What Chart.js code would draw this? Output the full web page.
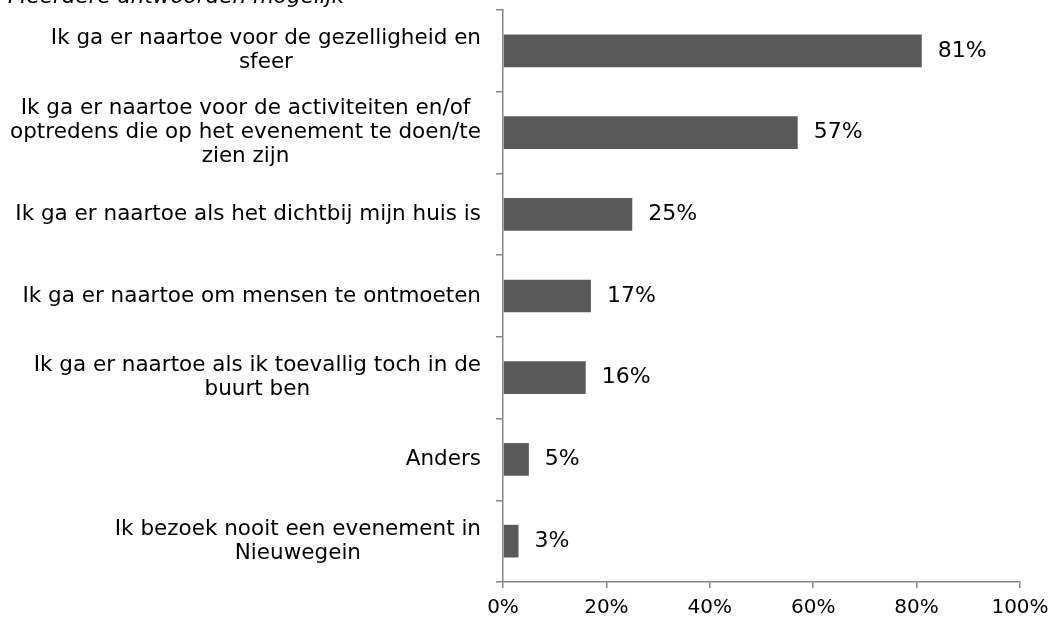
<!DOCTYPE html>
<html>
<head>
<meta charset="utf-8">
<script src="https://cdn.jsdelivr.net/npm/chart.js@4"></script>
<style>
  body { margin: 0; background: #fff; }
  #wrap { width: 1060px; height: 622px; position: relative; }
</style>
</head>
<body>
<div id="wrap"><canvas id="chart"></canvas></div>
<script>
var categories = [
  ["Ik ga er naartoe voor de gezelligheid en", "sfeer"],
  ["Ik ga er naartoe voor de activiteiten en/of", "optredens die op het evenement te doen/te", "zien zijn"],
  ["Ik ga er naartoe als het dichtbij mijn huis is"],
  ["Ik ga er naartoe om mensen te ontmoeten"],
  ["Ik ga er naartoe als ik toevallig toch in de", "buurt ben"],
  ["Anders"],
  ["Ik bezoek nooit een evenement in", "Nieuwegein"]
];
var values = [81, 57, 25, 17, 16, 5, 3];
var xTicks = [0, 20, 40, 60, 80, 100];
var subtitle = "Meerdere antwoorden mogelijk";

var FONT = "'DejaVu Sans', Verdana, sans-serif";
var axisColor = "#868686";

// y labels: block right aligned, lines centred inside the block
var labelPlugin = {
  id: "labels",
  afterDraw: function (chart) {
    var ctx = chart.ctx;
    var y = chart.scales.y;
    var x = chart.scales.x;
    ctx.save();
    ctx.fillStyle = "#000";
    ctx.textBaseline = "middle";
    var lineH = 24;
    var right = chart.chartArea.left - 22;
    categories.forEach(function (lines, i) {
      var cy = y.getPixelForValue(i);
      ctx.font = "21.5px " + FONT;
      var w = 0;
      lines.forEach(function (l) { w = Math.max(w, ctx.measureText(l).width); });
      var cx = right - w / 2;
      ctx.textAlign = "center";
      lines.forEach(function (l, j) {
        ctx.fillText(l, cx, cy + (j - (lines.length - 1) / 2) * lineH);
      });
      // value label
      ctx.font = "22px " + FONT;
      ctx.textAlign = "left";
      ctx.fillText(values[i] + "%", x.getPixelForValue(values[i]) + 16, cy);
    });
    ctx.font = "italic 21.5px " + FONT;
    ctx.textAlign = "left";
    ctx.textBaseline = "alphabetic";
    ctx.fillText(subtitle, 8, 3);
    ctx.restore();
  }
};

new Chart(document.getElementById("chart"), {
  type: "bar",
  data: {
    labels: categories.map(function (c) { return c.join(" "); }),
    datasets: [{
      data: values,
      backgroundColor: "#595959",
      borderWidth: 0,
      barPercentage: 1,
      categoryPercentage: 0.4
    }]
  },
  options: {
    indexAxis: "y",
    responsive: true,
    maintainAspectRatio: false,
    animation: false,
    layout: { padding: { top: 10, right: 40, left: 0, bottom: 0 } },
    plugins: { legend: { display: false }, tooltip: { enabled: false } },
    scales: {
      x: {
        min: 0,
        max: 100,
        afterBuildTicks: function (s) { s.ticks = xTicks.map(function (v) { return { value: v }; }); },
        afterFit: function (s) { s.height = 40; },
        border: { color: axisColor, width: 1.5 },
        grid: { drawOnChartArea: false, tickLength: 6, color: axisColor, lineWidth: 1.5 },
        ticks: {
          padding: 8,
          color: "#000",
          font: { family: FONT, size: 20 },
          callback: function (v) { return v + "%"; }
        }
      },
      y: {
        afterFit: function (s) { s.width = 503; },
        border: { color: axisColor, width: 1.5 },
        grid: { drawOnChartArea: false, tickLength: 7, color: axisColor, lineWidth: 1.5, offset: true },
        ticks: { display: false }
      }
    }
  },
  plugins: [labelPlugin]
});
</script>
</body>
</html>
